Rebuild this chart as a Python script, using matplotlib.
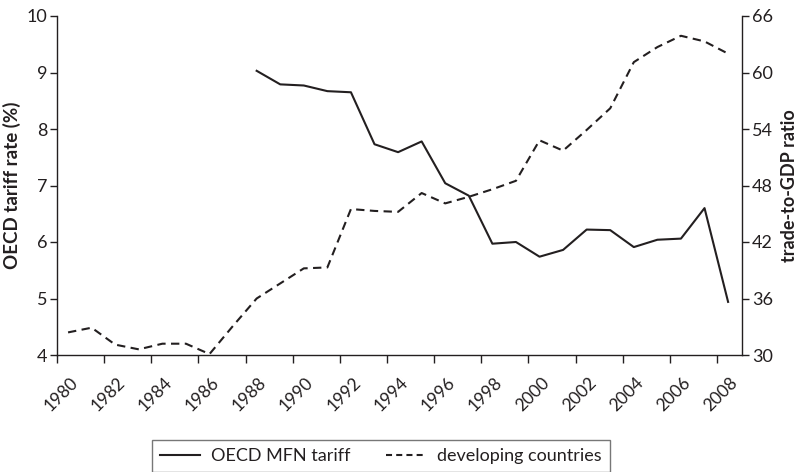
import numpy as np
import matplotlib
matplotlib.use('Agg')
import matplotlib.pyplot as plt
import matplotlib.transforms as mtransforms
from matplotlib.lines import Line2D

plt.rcParams['font.family'] = ['Lato', 'DejaVu Sans']

# tariff series (left axis), 1988-2008
tariff_years = list(range(1988, 2009))
tariff = [9.03, 8.79, 8.77, 8.67, 8.65, 7.73, 7.59, 7.78, 7.04, 6.82, 5.97,
          6.0, 5.74, 5.86, 6.22, 6.21, 5.91, 6.04, 6.06, 6.6, 4.94]

# trade-to-GDP ratio, developing countries (right axis), 1980-2008
trade_years = list(range(1980, 2009))
trade = [32.4, 32.9, 31.1, 30.6, 31.2, 31.2, 30.1, 33.1, 36.0, 37.6, 39.2,
         39.3, 45.5, 45.3, 45.2, 47.2, 46.1, 46.8, 47.6, 48.5, 52.8,
         51.7, 53.9, 56.2, 61.1, 62.7, 63.9, 63.3, 62.0]

x_ticks = list(range(1980, 2009, 2))
left_ticks = [4, 5, 6, 7, 8, 9, 10]
right_ticks = [30, 36, 42, 48, 54, 60, 66]

ink = '#231f20'
offset = 0.47  # points sit mid-year

fig = plt.figure(figsize=(8.02, 4.72), dpi=100)
ax = fig.add_axes([57/802, 1 - 355/472, 685/802, 339/472])
ax2 = ax.twinx()

l1, = ax.plot(np.array(tariff_years) + offset, tariff, color=ink, lw=1.5,
              label='OECD MFN tariff')
ax2.plot(np.array(trade_years) + offset, trade, color=ink, lw=1.5,
         linestyle=(0, (4, 2.6)))

ax.set_xlim(1980, 2009.06)
ax.set_ylim(4, 10)
ax2.set_ylim(30, 66)
ax.set_xticks(x_ticks)
ax.set_xticklabels([str(y) for y in x_ticks], rotation=45, ha='center')
ax.set_yticks(left_ticks)
ax2.set_yticks(right_ticks)

for a in (ax, ax2):
    a.spines['top'].set_visible(False)
    for s in a.spines.values():
        s.set_color(ink)
        s.set_linewidth(1.0)
    a.tick_params(colors=ink, labelsize=13, length=5, width=1.0,
                  direction='out', pad=2)
ax.spines['right'].set_visible(False)
ax2.spines['left'].set_visible(False)
ax2.spines['bottom'].set_visible(False)
ax.tick_params(axis='x', length=6, labelsize=12.5, pad=8)

# nudge the rotated year labels slightly right, like the original
shift = mtransforms.ScaledTranslation(4/100, 0, fig.dpi_scale_trans)
for lab in ax.get_xticklabels():
    lab.set_transform(lab.get_transform() + shift)

ax.set_ylabel('OECD tariff rate (%)', fontsize=13.5, fontweight='bold',
              color=ink, labelpad=4)
ax2.set_ylabel('trade-to-GDP ratio', fontsize=13, fontweight='bold',
               color=ink, labelpad=6)

# legend shows shorter dashes than the plotted line
dash_handle = Line2D([], [], color=ink, lw=1.5, linestyle=(0, (2.9, 2.0)),
                     label='developing countries')
leg = fig.legend(handles=[l1, dash_handle], loc='upper center', ncol=2,
                 bbox_to_anchor=(381/802, 1 - 440/472), borderaxespad=0,
                 frameon=True, fancybox=False, fontsize=13,
                 handlelength=2.2, handletextpad=0.6,
                 columnspacing=2.0, borderpad=0.45)
leg.get_frame().set_edgecolor('#555555')
leg.get_frame().set_linewidth(1.0)
for t in leg.get_texts():
    t.set_color(ink)

fig.savefig('out.png', dpi=100)
